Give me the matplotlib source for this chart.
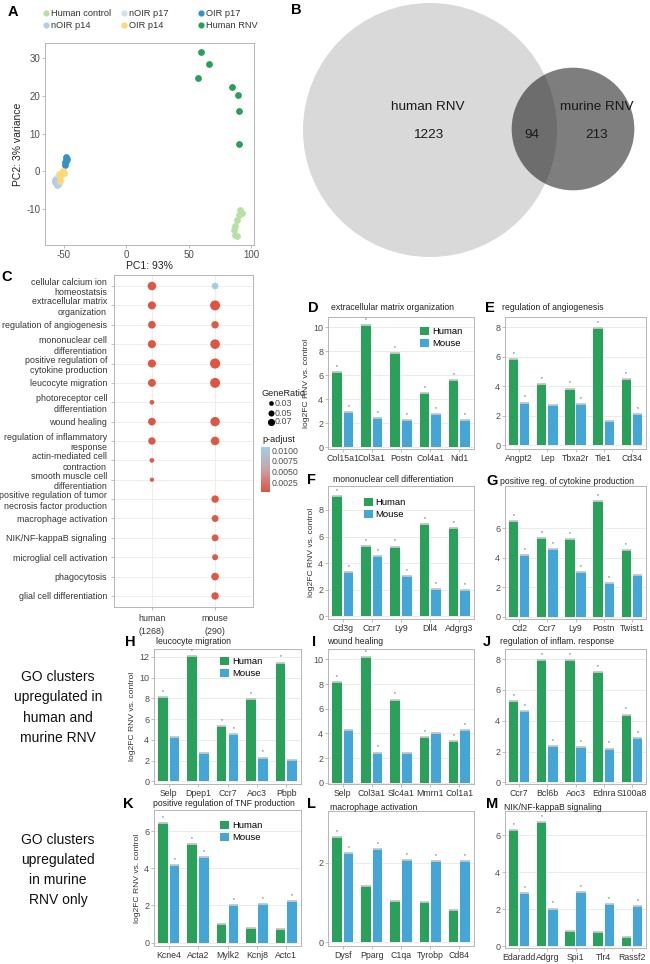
import numpy as np
import matplotlib
matplotlib.use('Agg')
import matplotlib.pyplot as plt
from matplotlib.patches import Circle, Rectangle
from matplotlib.colors import LinearSegmentedColormap, Normalize
from matplotlib.cm import ScalarMappable

plt.rcParams['font.family'] = ['Liberation Sans', 'DejaVu Sans']
plt.rcParams['axes.unicode_minus'] = False

# ---------------- DATA ----------------
# Panel A: PCA
pca_groups = ['Human control', 'nOIR p17', 'OIR p17', 'nOIR p14', 'OIR p14', 'Human RNV']
hc_x = [91.0, 92.4, 90.3, 88.5, 86.8, 85.7, 87.0, 88.8]
hc_y = [-10.3, -11.0, -11.5, -13.0, -14.6, -15.6, -16.8, -17.1]
nOIR17_x = [-56.0, -55.0, -54.2, -56.5]
nOIR17_y = [-1.8, -2.6, -3.3, -2.2]
OIR17_x = [-47.9, -48.2, -48.7, -47.9, -48.9, -47.5]
OIR17_y = [3.8, 3.1, 2.4, 2.7, 1.8, 3.3]
nOIR14_x = [-56.8, -55.6, -55.2, -57.0]
nOIR14_y = [-2.4, -3.1, -3.7, -2.9]
OIR14_x = [-50.5, -49.7, -52.4, -53.2, -51.6, -52.8, -54.0]
OIR14_y = [0.0, -0.4, -0.9, -1.3, -0.4, -2.6, -0.6]
rnv_x = [59.8, 66.4, 57.1, 84.4, 89.2, 90.3, 89.9]
rnv_y = [31.7, 28.4, 24.8, 22.3, 20.1, 15.9, 7.2]

# Panel B: Venn counts
venn_human_only = 1223
venn_shared = 94
venn_murine_only = 213

# Panel C: GO dot plot
go_terms = ["cellular calcium ion\nhomeostatsis", "extracellular matrix\norganization",
            "regulation of angiogenesis", "mononuclear cell\ndifferentiation",
            "positive regulation of\ncytokine production", "leucocyte migration",
            "photoreceptor cell\ndifferentiation", "wound healing",
            "regulation of inflammatory\nresponse", "actin-mediated cell\ncontraction",
            "smooth muscle cell\ndifferentiation",
            "positive regulation of tumor\nnecrosis factor production",
            "macrophage activation", "NIK/NF-kappaB signaling",
            "microglial cell activation", "phagocytosis", "glial cell differentiation"]
go_groups = ["human\n(1268)", "mouse\n(290)"]
nan = np.nan
human_ratio = np.array([0.10, 0.088, 0.08, 0.09, 0.09, 0.085, 0.03, 0.08, 0.075, 0.03, 0.025,
                        nan, nan, nan, nan, nan, nan])
mouse_ratio = np.array([0.06, 0.135, 0.075, 0.125, 0.14, 0.135, nan, 0.12, 0.10, nan, nan,
                        0.075, 0.065, 0.065, 0.05, 0.08, 0.075])
human_padj = np.array([0.0006, 0.0004, 0.0005, 0.0004, 0.0004, 0.0005, 0.0008, 0.0005, 0.0006,
                       0.0009, 0.0009, nan, nan, nan, nan, nan, nan])
mouse_padj = np.array([0.0105, 0.0004, 0.0007, 0.0004, 0.0004, 0.0004, nan, 0.0005, 0.0006, nan,
                       nan, 0.0006, 0.0007, 0.0007, 0.0008, 0.0006, 0.0006])

# Bar panels
D_genes = ['Col15a1', 'Col3a1', 'Postn', 'Col4a1', 'Nid1']
D_human = [6.3, 10.15, 7.85, 4.55, 5.6]
D_mouse = [2.95, 2.45, 2.3, 2.75, 2.3]
D_hsig = [1, 1, 1, 1, 1]
D_msig = [1, 1, 1, 1, 1]

E_genes = ['Angpt2', 'Lep', 'Tbxa2r', 'Tie1', 'Cd34']
E_human = [5.85, 4.15, 3.85, 7.95, 4.5]
E_mouse = [2.9, 2.75, 2.8, 1.65, 2.1]
E_hsig = [1, 1, 1, 1, 1]
E_msig = [1, 0, 1, 0, 1]

F_genes = ['Cd3g', 'Ccr7', 'Ly9', 'Dll4', 'Adgrg3']
F_human = [9.05, 5.3, 5.25, 6.95, 6.65]
F_mouse = [3.35, 4.55, 3.0, 2.05, 2.0]
F_hsig = [1, 1, 1, 1, 1]
F_msig = [1, 1, 1, 1, 1]

G_genes = ['Cd2', 'Ccr7', 'Ly9', 'Postn', 'Twist1']
G_human = [6.45, 5.3, 5.25, 7.85, 4.5]
G_mouse = [4.15, 4.6, 3.0, 2.3, 2.85]
G_hsig = [1, 1, 1, 1, 1]
G_msig = [1, 1, 1, 1, 0]

H_genes = ['Selp', 'Dpep1', 'Ccr7', 'Aoc3', 'Pbpb']
H_human = [8.15, 12.05, 5.3, 7.95, 11.45]
H_mouse = [4.3, 2.75, 4.6, 2.3, 2.1]
H_hsig = [1, 1, 1, 1, 1]
H_msig = [0, 0, 1, 1, 0]

I_genes = ['Selp', 'Col3a1', 'Slc4a1', 'Mmrn1', 'Col1a1']
I_human = [8.15, 10.2, 6.75, 3.7, 3.35]
I_mouse = [4.3, 2.45, 2.45, 4.0, 4.3]
I_hsig = [1, 1, 1, 1, 1]
I_msig = [0, 1, 0, 0, 1]

J_genes = ['Ccr7', 'Bcl6b', 'Aoc3', 'Ednra', 'S100a8']
J_human = [5.3, 7.95, 7.95, 7.15, 4.4]
J_mouse = [4.6, 2.35, 2.3, 2.2, 2.9]
J_hsig = [1, 1, 1, 1, 1]
J_msig = [1, 1, 1, 1, 1]

K_genes = ['Kcne4', 'Acta2', 'Mylk2', 'Kcnj8', 'Actc1']
K_human = [6.45, 5.3, 1.0, 0.78, 0.75]
K_mouse = [4.17, 4.6, 2.02, 2.07, 2.25]
K_hsig = [1, 1, 0, 0, 0]
K_msig = [1, 1, 1, 1, 1]

L_genes = ['Dysf', 'Pparg', 'C1qa', 'Tyrobp', 'Cd84']
L_human = [2.64, 1.42, 1.03, 1.02, 0.81]
L_mouse = [2.23, 2.34, 2.07, 2.03, 2.03]
L_hsig = [1, 0, 0, 0, 0]
L_msig = [1, 1, 1, 1, 1]

M_genes = ['Edaradd', 'Adgrg', 'Spi1', 'Tlr4', 'Rassf2']
M_human = [6.26, 6.72, 0.83, 0.75, 0.48]
M_mouse = [2.87, 2.03, 2.94, 2.26, 2.17]
M_hsig = [1, 1, 0, 0, 0]
M_msig = [1, 1, 1, 1, 1]

# ---------------- STYLE ----------------
W, H = 650, 964
fig = plt.figure(figsize=(6.5, 9.64), dpi=100)
GREEN = '#2aa15a'
BLUE = '#43a6d6'
GRID = '#ebebeb'
SPINE = '#b5b5b5'
TXT = '#4d4d4d'


def box(l, t, r, b):
    return fig.add_axes([l / W, 1 - b / H, (r - l) / W, (b - t) / H])


def T(x, y, s, **kw):
    kw.setdefault('ha', 'center')
    kw.setdefault('va', 'center')
    return fig.text(x / W, 1 - y / H, s, **kw)


def style(ax, grid_y=True):
    for sp in ax.spines.values():
        sp.set_color(SPINE)
        sp.set_linewidth(0.7)
    ax.tick_params(length=2, width=0.6, color=SPINE, labelcolor=TXT, pad=1.5)
    ax.set_axisbelow(True)


# ---------------- PANEL A ----------------
axA = box(45, 43, 254, 245)
style(axA)
A_colors = ['#b7e1a3', '#cfe1f3', '#3193c7', '#b3cde9', '#fdd878', '#27a05a']
A_data = [(hc_x, hc_y), (nOIR17_x, nOIR17_y), (OIR17_x, OIR17_y),
          (nOIR14_x, nOIR14_y), (OIR14_x, OIR14_y), (rnv_x, rnv_y)]
for (xs, ys), c in zip(A_data, A_colors):
    axA.scatter(xs, ys, s=24, color=c, linewidths=0, zorder=3)
axA.set_xlim(-65, 102)
axA.set_ylim(-19.5, 34)
axA.set_xticks([-50, 0, 50, 100])
axA.set_yticks([-10, 0, 10, 20, 30])
axA.tick_params(labelsize=7)
axA.set_xlabel('PC1: 93%', fontsize=7.5, color='#222222', labelpad=1)
axA.set_ylabel('PC2: 3% variance', fontsize=7.5, color='#222222', labelpad=2)
# legend
axLeg = fig.add_axes([0, 0, 1, 1], zorder=5)
axLeg.set_xlim(0, W)
axLeg.set_ylim(H, 0)
axLeg.axis('off')
leg_pos = [(46, 13), (124, 13), (201, 13), (46, 25), (124, 25), (201, 25)]
for (px, py), c, lab in zip(leg_pos, A_colors, pca_groups):
    axLeg.scatter([px], [py], s=20, color=c, linewidths=0)
    axLeg.text(px + 5, py, lab, fontsize=6.7, color='#333333', va='center', ha='left')

# ---------------- PANEL B ----------------
axB = box(290, 0, 650, 270)
axB.set_xlim(290, 650)
axB.set_ylim(270, 0)
axB.axis('off')
k = 3.5
r_h = k * np.sqrt(venn_human_only + venn_shared)
r_m = k * np.sqrt(venn_murine_only + venn_shared)
axB.add_patch(Circle((430, 130), r_h, facecolor='#d9d9d9', edgecolor='none'))
axB.add_patch(Circle((573, 129), r_m, facecolor='#141414', alpha=0.55, edgecolor='none'))
bkw = dict(fontsize=9.7, color='#1a1a1a', ha='center', va='center')
axB.text(428, 107, 'human RNV', **bkw)
axB.text(428, 135, str(venn_human_only), **bkw)
axB.text(597, 107, 'murine RNV', **bkw)
axB.text(532, 135, str(venn_shared), **bkw)
axB.text(597, 135, str(venn_murine_only), **bkw)

# ---------------- PANEL C ----------------
cmap = LinearSegmentedColormap.from_list('padj', ['#e0533f', '#c9a2a8', '#a3cde9'])
norm = Normalize(vmin=0.0003, vmax=0.0107)
axC = box(114, 275, 253, 607)
style(axC)
n = len(go_terms)
yy = np.arange(n)
for i, (ratios, padj) in enumerate([(human_ratio, human_padj), (mouse_ratio, mouse_padj)]):
    m = ~np.isnan(ratios)
    axC.scatter(np.full(m.sum(), i + 1), yy[m], s=380 * ratios[m], c=padj[m], cmap=cmap,
                norm=norm, linewidths=0, zorder=3)
axC.set_xlim(0.4, 2.6)
axC.set_ylim(n - 1 + 0.57, -0.57)
axC.set_yticks(yy)
axC.set_yticklabels(go_terms, fontsize=6.4, color='#333333', linespacing=1.2)
axC.set_xticks([1, 2])
axC.set_xticklabels(go_groups, fontsize=6.4, color='#333333', linespacing=1.6)
axC.grid(True, color=GRID, lw=0.6)
axC.tick_params(pad=3)

# GeneRatio legend
T(262, 394, 'GeneRatio', fontsize=6.6, ha='left', color='#222222')
for val, py in zip([0.03, 0.05, 0.07], [403, 413, 422]):
    axLeg.scatter([271], [py], s=380 * val, color='black', linewidths=0)
    axLeg.text(275, py, f'{val:.2f}', fontsize=6.4, color=TXT, va='center', ha='left')
T(262, 440, 'p-adjust', fontsize=6.6, ha='left', color='#222222')
cax = box(261, 447, 270, 492)
cb = fig.colorbar(ScalarMappable(norm=norm, cmap=cmap), cax=cax)
cb.outline.set_visible(False)
cb.set_ticks([0.0025, 0.005, 0.0075, 0.01])
cb.set_ticklabels(['0.0025', '0.0050', '0.0075', '0.0100'])
cax.tick_params(labelsize=6.3, length=0, pad=1, labelcolor=TXT)


# ---------------- BAR PANELS ----------------
def bar_panel(rect, genes, hum, mou, hsig, msig, ylim, yticks, ylabel=False, leg=None):
    ax = box(*rect)
    style(ax)
    x = np.arange(len(genes))
    off, w = 0.2, 0.33
    hum = np.asarray(hum)
    mou = np.asarray(mou)
    ax.bar(x - off, hum, w, color=GREEN, zorder=2, label='Human')
    ax.bar(x + off, mou, w, color=BLUE, zorder=2, label='Mouse')
    ax.hlines(hum, x - off - w / 2, x - off + w / 2, color='#c6c6c6', lw=1.3, zorder=3)
    ax.hlines(mou, x + off - w / 2, x + off + w / 2, color='#c6c6c6', lw=1.3, zorder=3)
    for xi, v, s in zip(x - off, hum, hsig):
        if s:
            ax.annotate('*', (xi, v), xytext=(0, 2.2), textcoords='offset points',
                        fontsize=3.4, ha='center', va='bottom', color='#444444')
    for xi, v, s in zip(x + off, mou, msig):
        if s:
            ax.annotate('*', (xi, v), xytext=(0, 2.2), textcoords='offset points',
                        fontsize=3.4, ha='center', va='bottom', color='#444444')
    ax.set_xlim(-0.5, len(genes) - 0.5)
    ax.set_ylim(*ylim)
    ax.set_yticks(yticks)
    ax.set_xticks(x)
    ax.set_xticklabels(genes, fontsize=6.3, color='#333333')
    ax.tick_params(axis='y', labelsize=6.5)
    ax.yaxis.grid(True, color=GRID, lw=0.7)
    if ylabel:
        ax.set_ylabel('log2FC RNV vs. control', fontsize=6.1, color='#333333', labelpad=2)
    if leg is not None:
        ax.legend(loc='upper left', bbox_to_anchor=leg, frameon=False, fontsize=6.8,
                  handlelength=0.95, handleheight=0.95, handletextpad=0.3,
                  labelspacing=0.25, borderpad=0, borderaxespad=0)
    return ax


bar_panel((328, 317, 474, 449), D_genes, D_human, D_mouse, D_hsig, D_msig,
          (-0.15, 10.85), [0, 2, 4, 6, 8, 10], ylabel=True, leg=(0.63, 0.925))
bar_panel((505, 317, 646, 449), E_genes, E_human, E_mouse, E_hsig, E_msig,
          (-0.25, 8.7), [0, 2, 4, 6, 8])
bar_panel((328, 486, 474, 619), F_genes, F_human, F_mouse, F_hsig, F_msig,
          (-0.2, 9.8), [0, 2, 4, 6, 8], ylabel=True, leg=(0.245, 0.91))
bar_panel((505, 486, 646, 619), G_genes, G_human, G_mouse, G_hsig, G_msig,
          (-0.15, 8.85), [0, 2, 4, 6])
bar_panel((154, 649, 301, 784), H_genes, H_human, H_mouse, H_hsig, H_msig,
          (-0.25, 12.75), [0, 2, 4, 6, 8, 10, 12], ylabel=True, leg=(0.45, 0.94))
bar_panel((328, 649, 474, 784), I_genes, I_human, I_mouse, I_hsig, I_msig,
          (-0.1, 10.85), [0, 2, 4, 6, 8, 10])
bar_panel((505, 649, 646, 784), J_genes, J_human, J_mouse, J_hsig, J_msig,
          (-0.1, 8.65), [0, 2, 4, 6, 8])
bar_panel((154, 810, 301, 946), K_genes, K_human, K_mouse, K_hsig, K_msig,
          (-0.18, 7.13), [0, 2, 4, 6], ylabel=True, leg=(0.45, 0.92))
bar_panel((328, 811, 474, 946), L_genes, L_human, L_mouse, L_hsig, L_msig,
          (-0.1, 3.3), [0, 2])
bar_panel((505, 811, 646, 948), M_genes, M_human, M_mouse, M_hsig, M_msig,
          (-0.1, 7.3), [0, 2, 4, 6])

# ---------------- TEXT ----------------
lab = dict(fontsize=10.5, fontweight='bold', color='black')
for s, (px, py) in zip('ABCDEFGHIJKLM',
                       [(13, 12), (296, 10), (7, 277), (313, 308), (490, 308), (312, 480),
                        (492, 481), (130, 642), (314, 642), (487, 642), (128, 804),
                        (312, 804), (492, 804)]):
    T(px, py, s, **lab)

tkw = dict(fontsize=6.2, ha='left', color='#222222')
T(331, 307, 'extracellular matrix organization', **tkw)
T(502, 307, 'regulation of angiogenesis', **tkw)
T(333, 480, 'mononuclear cell differentiation', **tkw)
T(500, 481, 'positive reg. of cytokine production', **tkw)
T(156, 642, 'leucocyte migration', **tkw)
T(327, 642, 'wound healing', **tkw)
T(500, 642, 'regulation of inflam. response', **tkw)
T(153, 803, 'positive regulation of TNF production', **tkw)
T(330, 807, 'macrophage activation', **tkw)
T(504, 807, 'NIK/NF-kappaB signaling', **tkw)

T(58, 707.5, 'GO clusters\nupregulated in\nhuman and\nmurine RNV', fontsize=10,
  linespacing=1.55, color='#111111')
T(58, 870, 'GO clusters\nupregulated\nin murine\nRNV only', fontsize=10,
  linespacing=1.55, color='#111111')

fig.savefig('out.png', dpi=100)
